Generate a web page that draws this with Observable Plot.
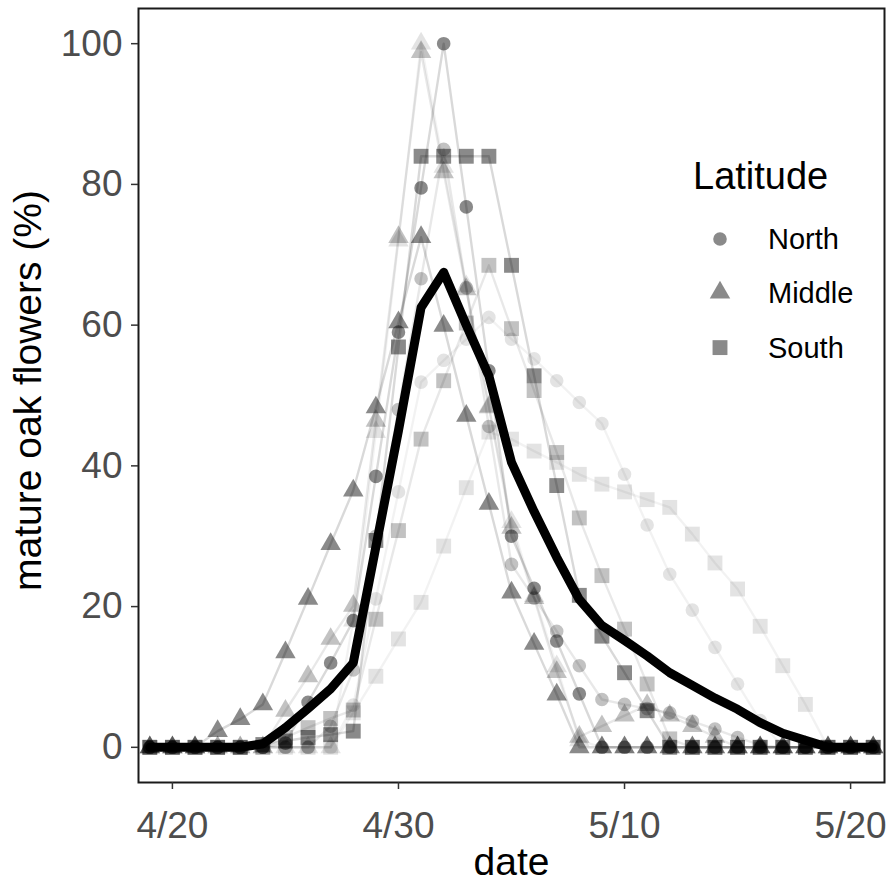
<!DOCTYPE html>
<html><head><meta charset="utf-8">
<script src="https://cdn.jsdelivr.net/npm/d3@7"></script>
<script src="https://cdn.jsdelivr.net/npm/@observablehq/plot@0.6"></script>
<style>
body{margin:0;background:#fff;}
#wrap{position:relative;width:895px;height:882px;font-family:"Liberation Sans",Arial,Helvetica,sans-serif;}
#legend{position:absolute;left:0;top:0;pointer-events:none;}
</style></head><body><div id="wrap"></div>
<script>
// ---- data ----
const dayLabels = ["4/19","4/20","4/21","4/22","4/23","4/24","4/25","4/26","4/27","4/28","4/29","4/30",
  "5/1","5/2","5/3","5/4","5/5","5/6","5/7","5/8","5/9","5/10","5/11","5/12","5/13","5/14","5/15",
  "5/16","5/17","5/18","5/19","5/20","5/21"];
const tickLabels = ["4/20","4/30","5/10","5/20"];
const yTicks = [0,20,40,60,80,100];
const latitudes = ["North","Middle","South"];
const shades = ["light","medium","dark"];

const northDark   = [0,0,0,0,0,0,0.6,6.4,12,18,38.5,59,79.5,100,76.8,53.5,30,22.6,15.1,7.6,0,0,0,0,0,0,0,0,0,0,0,0,0];
const northMedium = [0,0,0,0,0,0,0,0,3,11,30,48,66.6,85,65.3,45.6,26,21.2,16.5,11.6,6.8,6.1,5.5,4.9,3.7,2.6,1.4,0.3,0,0,0,0,0];
const northLight  = [0,0,0,0,0,0,0,0,0,6,21.1,36.3,51.9,55,58,61.1,58,55.2,52.1,49,46,38.8,31.6,24.6,19.5,14.2,9,3.8,0,0,0,0,0];
const middleDark  = [0,0,0,2.3,4,6.1,13.5,21.1,28.9,36.5,48.3,60.4,72.5,59.9,47.1,34.6,22,14.7,7.5,0,0,0,0,0,0,0,0,0,0,0,0,0,0];
const middleMedium= [0,0,0,0,0,0,5.2,10.1,15.4,20.1,46.4,72.5,98.8,81.7,65.1,48.3,31.2,21.2,10.7,1.5,3,4.5,6,4.5,3,1.5,0,0,0,0,0,0,0];
const middleLight = [0,0,0,0,0,0,0,0,0,18,44.8,72,100,82.5,65.5,48.5,32,21.5,11.5,1,0,0,0,0,0,0,0,0,0,0,0,0,0];
const southDark   = [0,0,0,0,0,0.4,0.9,1.4,1.8,2.3,29.4,56.9,84,84,84,84,68.5,52.8,37.2,21.6,15.8,10.6,5.2,0,0,0,0,0,0,0,0,0,0];
const southMedium = [0,0,0,0,0,0,1.4,2.8,4.1,5.3,18.2,30.8,43.8,52.1,60.3,68.5,59.5,50.7,41.9,32.6,24.4,16.8,9,1.2,0,0,0,0,0,0,0,0,0];
const southLight  = [0,0,0,0,0,0,0,0,0,4.9,10.1,15.4,20.6,28.6,36.9,44.8,43.8,42.1,40.5,38.8,37.4,36.3,35.2,34.1,30.3,26.2,22.5,17.2,11.6,6.1,0,0,0];
const meanValues  = [0,0,0,0,0,0.5,2.8,5.5,8.3,12,28.5,45,62.5,67.5,60,52.8,40.5,33.5,27,21,17.3,15.2,13,10.6,8.8,7,5.4,3.5,2,1,0,0,0];

// ---- build tables ----
const toDate = s => { const [m, d] = s.split("/").map(Number); return new Date(Date.UTC(2000, m - 1, d)); };
const dates = dayLabels.map(toDate);
const seriesTable = [
  ["North","dark",northDark],["North","medium",northMedium],["North","light",northLight],
  ["Middle","dark",middleDark],["Middle","medium",middleMedium],["Middle","light",middleLight],
  ["South","dark",southDark],["South","medium",southMedium],["South","light",southLight]
];
const rows = [];
for (const [lat, shade, vals] of seriesTable)
  vals.forEach((v, i) => rows.push({date: dates[i], value: v, lat, shade, key: lat + shade}));
const meanRows = meanValues.map((v, i) => ({date: dates[i], value: v}));

const pointOpacity = {dark: 0.46, medium: 0.24, light: 0.11};
const lineOpacity  = {dark: 0.15, medium: 0.09, light: 0.05};
const symbolOf = {North: "circle", Middle: "triangle", South: "square"};
const rOf = {North: 6.8, Middle: 7.6, South: 8.4};

const marks = [];
for (const s of shades)
  marks.push(Plot.line(rows.filter(d => d.shade === s), {x: "date", y: "value", z: "key",
    stroke: "black", strokeOpacity: lineOpacity[s], strokeWidth: 2.4}));
for (const s of shades) for (const lat of latitudes)
  marks.push(Plot.dot(rows.filter(d => d.shade === s && d.lat === lat), {x: "date", y: "value",
    symbol: () => symbolOf[lat], r: rOf[lat], fill: "black", fillOpacity: pointOpacity[s], stroke: "none"}));
marks.push(Plot.line(meanRows, {x: "date", y: "value", stroke: "black", strokeWidth: 9, strokeLinejoin: "round"}));
marks.push(Plot.frame({stroke: "#1a1a1a", strokeWidth: 2}));
marks.push(Plot.axisX({ticks: tickLabels.map(toDate), tickFormat: d => `${d.getUTCMonth()+1}/${d.getUTCDate()}`,
  tickSize: 7, tickPadding: 22, fontSize: 37, fill: "#4d4d4d", stroke: "#333", strokeWidth: 1.5, label: null}));
marks.push(Plot.axisY({ticks: yTicks, tickSize: 7, tickPadding: 9, fontSize: 37, fill: "#4d4d4d",
  stroke: "#333", strokeWidth: 1.5, label: null}));
marks.push(Plot.text(["date"], {frameAnchor: "bottom", dy: 80, textAnchor: "middle", lineAnchor: "middle", fontSize: 39, fill: "black"}));
marks.push(Plot.text(["mature oak flowers (%)"], {frameAnchor: "left", dx: -110, dy: -5, rotate: -90,
  textAnchor: "middle", lineAnchor: "middle", fontSize: 39, fill: "black"}));

const chart = Plot.plot({
  width: 895, height: 882,
  marginLeft: 138, marginRight: 11, marginTop: 8, marginBottom: 100,
  style: {fontFamily: '"Liberation Sans", Arial, Helvetica, sans-serif', background: "white"},
  x: {type: "utc", domain: [new Date(Date.UTC(2000,3,18,12)), new Date(Date.UTC(2000,4,21,12))]},
  y: {domain: [-5, 105]},
  symbol: {type: "identity"},
  marks
});
const wrap = document.getElementById("wrap");
wrap.appendChild(chart);

// ---- legend ----
const legendTitle = "Latitude";
const lg = d3.create("svg").attr("id","legend").attr("width",895).attr("height",882);
lg.append("text").attr("x",693).attr("y",175.5).attr("dy","0.35em").attr("font-size",38).attr("fill","black").text(legendTitle);
const symD3 = {North: d3.symbolCircle, Middle: d3.symbolTriangle, South: d3.symbolSquare};
latitudes.forEach((lat, i) => {
  const y = [239, 292.5, 347.6][i];
  const r = rOf[lat];
  lg.append("path").attr("d", d3.symbol(symD3[lat], Math.PI * r * r)()).attr("transform", `translate(720,${y})`)
    .attr("fill","black").attr("fill-opacity",0.46);
  lg.append("text").attr("x",768).attr("y",y).attr("dy","0.35em").attr("font-size",29).attr("fill","black").text(lat);
});
wrap.appendChild(lg.node());
</script></body></html>
